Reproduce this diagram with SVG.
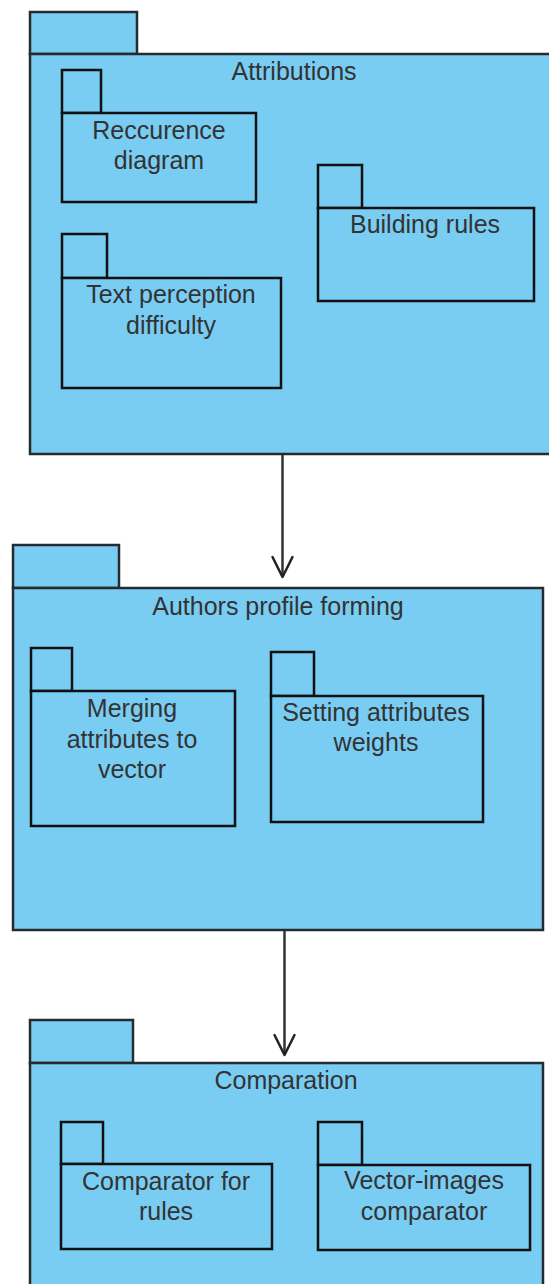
<svg xmlns="http://www.w3.org/2000/svg" width="549" height="1284" viewBox="0 0 549 1284">
  <defs>
    <style>
      .pkg { fill: #79cdf3; stroke: #262b2e; stroke-width: 2.5; }
      .sub { fill: #79cdf3; stroke: #111; stroke-width: 2.5; }
      .lbl { font-family: "Liberation Sans", Arial, sans-serif; font-size: 25px; fill: #333; text-anchor: middle; }
      .edge { stroke: #333; stroke-width: 2.5; fill: none; }
      .head { stroke: #222; stroke-width: 2.5; fill: none; stroke-linecap: round; stroke-linejoin: round; }
    </style>
  </defs>
  <rect width="549" height="1284" fill="#ffffff"/>

  <!-- Attributions package -->
  <g id="attributions">
    <rect class="pkg" x="30" y="12" width="107" height="42"/>
    <rect class="pkg" x="30" y="54" width="524" height="400"/>
    <text class="lbl" x="294" y="80">Attributions</text>
  </g>
  <g id="reccurence-diagram">
    <rect class="sub" x="62" y="70" width="39" height="43"/>
    <rect class="sub" x="62" y="113" width="194" height="89"/>
    <text class="lbl" x="159" y="139">Reccurence</text>
    <text class="lbl" x="159" y="169">diagram</text>
  </g>
  <g id="building-rules">
    <rect class="sub" x="318" y="165" width="44" height="43"/>
    <rect class="sub" x="318" y="208" width="216" height="93"/>
    <text class="lbl" x="425" y="233">Building rules</text>
  </g>
  <g id="text-perception-difficulty">
    <rect class="sub" x="62" y="234" width="45" height="44"/>
    <rect class="sub" x="62" y="278" width="219" height="110"/>
    <text class="lbl" x="171" y="303">Text perception</text>
    <text class="lbl" x="171" y="334">difficulty</text>
  </g>

  <!-- Authors profile forming package -->
  <g id="authors-profile-forming">
    <rect class="pkg" x="13" y="545" width="106" height="43"/>
    <rect class="pkg" x="13" y="588" width="530" height="342"/>
    <text class="lbl" x="278" y="615">Authors profile forming</text>
  </g>
  <g id="merging-attributes">
    <rect class="sub" x="31" y="648" width="41" height="43"/>
    <rect class="sub" x="31" y="691" width="204" height="135"/>
    <text class="lbl" x="132" y="717">Merging</text>
    <text class="lbl" x="132" y="748">attributes to</text>
    <text class="lbl" x="132" y="778">vector</text>
  </g>
  <g id="setting-weights">
    <rect class="sub" x="271" y="652" width="43" height="44"/>
    <rect class="sub" x="271" y="696" width="212" height="126"/>
    <text class="lbl" x="376" y="721">Setting attributes</text>
    <text class="lbl" x="376" y="751">weights</text>
  </g>

  <!-- Comparation package -->
  <g id="comparation">
    <rect class="pkg" x="30" y="1020" width="103" height="43"/>
    <rect class="pkg" x="30" y="1063" width="513" height="240"/>
    <text class="lbl" x="286" y="1089">Comparation</text>
  </g>
  <g id="comparator-for-rules">
    <rect class="sub" x="61" y="1122" width="42" height="42"/>
    <rect class="sub" x="61" y="1164" width="211" height="85"/>
    <text class="lbl" x="166" y="1190">Comparator for</text>
    <text class="lbl" x="166" y="1220">rules</text>
  </g>
  <g id="vector-images-comparator">
    <rect class="sub" x="318" y="1122" width="44" height="43"/>
    <rect class="sub" x="318" y="1165" width="212" height="85"/>
    <text class="lbl" x="424" y="1189">Vector-images</text>
    <text class="lbl" x="424" y="1220">comparator</text>
  </g>

  <!-- Dependencies between packages -->
  <g id="connectors">
    <line class="edge" x1="282.5" y1="455" x2="282.5" y2="576"/>
    <polyline class="head" points="272.5,557 282.5,577 292.5,557"/>
    <line class="edge" x1="284.5" y1="931" x2="284.5" y2="1054"/>
    <polyline class="head" points="274.5,1035 284.5,1055 294.5,1035"/>
  </g>
</svg>
